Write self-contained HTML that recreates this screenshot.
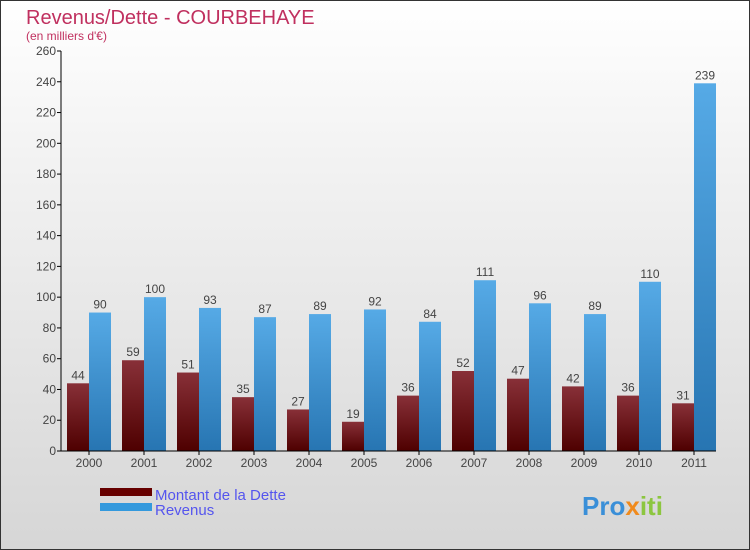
<!DOCTYPE html>
<html><head><meta charset="utf-8"><style>
body{margin:0}
#c{width:750px;height:550px;position:relative;box-sizing:border-box;border:1px solid #333;background:linear-gradient(#ffffff,#f2f2f2 30%,#d6d6d6);font-family:"Liberation Sans",sans-serif;overflow:hidden}
</style></head><body>
<div id="c">
<svg width="750" height="550" style="position:absolute;left:-1px;top:-1px" id="svg">
<defs>
<linearGradient id="gd" x1="0" y1="0" x2="0" y2="1"><stop offset="0" stop-color="#883038"/><stop offset="1" stop-color="#4e0000"/></linearGradient>
<linearGradient id="gr" x1="0" y1="0" x2="0" y2="1"><stop offset="0" stop-color="#56aae6"/><stop offset="1" stop-color="#2775b2"/></linearGradient>
</defs>
<text x="26" y="24" font-size="20" fill="#c0305f">Revenus/Dette - COURBEHAYE</text>
<text x="26" y="40" font-size="12" fill="#c0305f">(en milliers d'€)</text>
<g id="plot"></g>
<rect x="100" y="488" width="52" height="8" fill="#660000"/>
<rect x="100" y="503" width="52" height="8" fill="#3399dd"/>
<text x="155" y="500" font-size="15" fill="#5555ee">Montant de la Dette</text>
<text x="155" y="515" font-size="15" fill="#5555ee">Revenus</text>
<text x="582" y="515" font-size="26" font-weight="bold" fill="#3a8fd8">Pro<tspan fill="#f08a1c">x</tspan><tspan fill="#8cc63f">iti</tspan></text>
</svg>
</div>
<script>
const categories=["2000","2001","2002","2003","2004","2005","2006","2007","2008","2009","2010","2011"];
const dette=[44,59,51,35,27,19,36,52,47,42,36,31];
const revenus=[90,100,93,87,89,92,84,111,96,89,110,239];
const yTicks=[0,20,40,60,80,100,120,140,160,180,200,220,240,260];
const NS="http://www.w3.org/2000/svg";
const g=document.getElementById("plot");
const x0=61,y0=451,yMax=260,plotH=400,step=55;
const y=v=>y0-v/yMax*plotH;
const cx=i=>x0+28+i*step;
function mk(t,a,txt){const e=document.createElementNS(NS,t);for(const k in a)e.setAttribute(k,a[k]);if(txt!==undefined)e.textContent=txt;g.appendChild(e);return e;}
yTicks.forEach(v=>{
 const l=mk("line",{x1:x0-4,x2:x0,y1:y(v),y2:y(v),stroke:"#000"});
 
 
 const t=mk("text",{x:x0-5,y:y(v)+4,"font-size":12,"text-anchor":"end",fill:"#444"},v);
 
 
});
categories.forEach((c,i)=>{
 const c0=cx(i);
 const b1=mk("rect",{x:c0-22,y:y(dette[i]),width:22,height:y0-y(dette[i]),fill:"url(#gd)"});
 
 
 const b2=mk("rect",{x:c0,y:y(revenus[i]),width:22,height:y0-y(revenus[i]),fill:"url(#gr)"});
 
 
 const l1=mk("text",{x:c0-11,y:y(dette[i])-4,"font-size":12,"text-anchor":"middle",fill:"#444"},dette[i]);
 
 
 const l2=mk("text",{x:c0+11,y:y(revenus[i])-4,"font-size":12,"text-anchor":"middle",fill:"#444"},revenus[i]);
 
 
 const tk=mk("line",{x1:c0,x2:c0,y1:y0,y2:y0+4,stroke:"#000"});
 
 
 const tl=mk("text",{x:c0,y:y0+16,"font-size":12,"text-anchor":"middle",fill:"#444"},c);
 
 
});
const ya=mk("line",{x1:x0,x2:x0,y1:y(yMax),y2:y0,stroke:"#000"});


const xa=mk("line",{x1:x0,x2:716,y1:y0,y2:y0,stroke:"#000"});


</script>
</body></html>
